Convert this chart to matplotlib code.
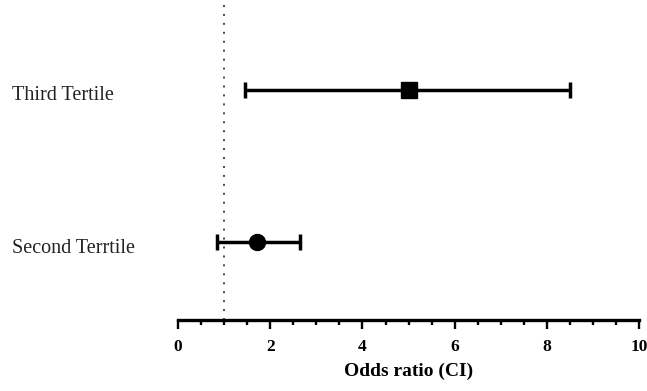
import matplotlib.pyplot as plt
import matplotlib.transforms as mtransforms
from matplotlib.ticker import MultipleLocator

groups = ["Second Terrtile", "Third Tertile"]
odds = [1.72, 5.0]
ci_low = [0.85, 1.45]
ci_high = [2.65, 8.5]
markers = ["o", "s"]
xticks = [0, 2, 4, 6, 8, 10]

fig = plt.figure(figsize=(6.47, 3.91), dpi=100)
ax = fig.add_axes([0.275, 0.182, 0.713, 0.818])

ypos = [1, 2]
for y, o, lo, hi, m in zip(ypos, odds, ci_low, ci_high, markers):
    ax.errorbar([o], [y], xerr=[[o - lo], [hi - o]], fmt=m, color="black",
                ms=11.5, ecolor="black", elinewidth=2.5, capsize=5.5,
                capthick=2.5, zorder=3)

# reference line at OR = 1
ax.axvline(1, color="#444444", lw=1.4, dashes=(1, 3.6), zorder=1)

ax.set_xlim(0, 10)
ax.set_ylim(0.49, 2.59)
ax.set_xticks(xticks)
ax.xaxis.set_minor_locator(MultipleLocator(0.5))
ax.set_yticks([])
for s in ["left", "right", "top"]:
    ax.spines[s].set_visible(False)
ax.spines["bottom"].set_linewidth(2.4)
ax.spines["bottom"].set_capstyle("projecting")
ax.tick_params(axis="x", which="major", length=6.5, width=1.7, pad=7)
ax.tick_params(axis="x", which="minor", length=3.8, width=1.7)
for lab in ax.get_xticklabels():
    lab.set_fontfamily("Liberation Serif")
    lab.set_fontweight("bold")
    lab.set_fontsize(12.5)

ax.set_xlabel("Odds ratio (CI)", fontfamily="Liberation Serif",
              fontweight="bold", fontsize=14, labelpad=6)

trans = mtransforms.blended_transform_factory(fig.transFigure, ax.transData)
for y, g in zip(ypos, groups):
    ax.text(0.018, y - 0.04, g, transform=trans, ha="left", va="center",
            fontfamily="Liberation Serif", fontsize=14.5, color="#222222")

fig.savefig("out.png", dpi=100)
